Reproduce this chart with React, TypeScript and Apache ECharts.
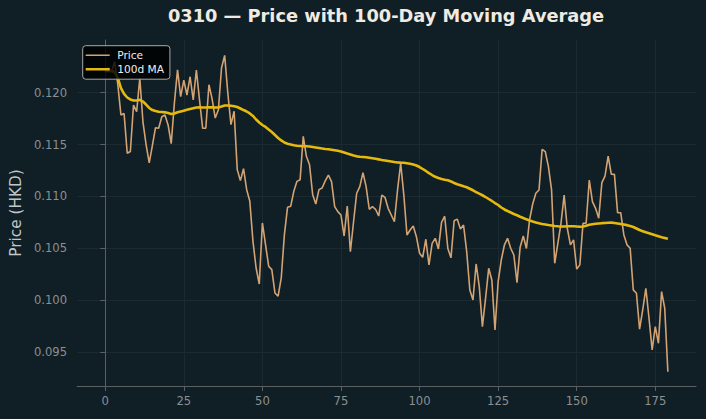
import React, { useEffect, useRef } from 'react';
import * as echarts from 'echarts';

// Daily closing price of 0310 (HKD), one value per trading day
const PRICE = [
  0.1220, 0.1224, 0.1220, 0.1230, 0.1208, 0.11785, 0.1180, 0.11417, 0.11433, 0.11881,
  0.11817, 0.1214, 0.1172, 0.1150, 0.11324, 0.1149, 0.11663, 0.11657, 0.11769, 0.11785,
  0.1169, 0.1151, 0.1190, 0.1222, 0.11962, 0.12122, 0.11978, 0.12154, 0.1193, 0.12218,
  0.1193, 0.11657, 0.11657, 0.12077, 0.1194, 0.11756, 0.11836, 0.12238, 0.1236, 0.11997,
  0.11692, 0.11821, 0.11259, 0.11153, 0.11268, 0.11066, 0.10954, 0.10568, 0.10311, 0.10157,
  0.10745, 0.10536, 0.10328, 0.10295, 0.1007, 0.10039, 0.10215, 0.10632, 0.10896, 0.10905,
  0.1105, 0.11146, 0.11162, 0.1158, 0.11387, 0.11306, 0.11017, 0.10928, 0.11066, 0.11082,
  0.1115, 0.11207, 0.11143, 0.10902, 0.10854, 0.10822, 0.10619, 0.10908, 0.10468, 0.10757,
  0.11031, 0.11095, 0.1123, 0.11095, 0.10877, 0.10902, 0.10877, 0.10812, 0.11014, 0.10992,
  0.10886, 0.10822, 0.10757, 0.11063, 0.1132, 0.11014, 0.10629, 0.10677, 0.10716, 0.10613,
  0.10453, 0.10414, 0.10588, 0.1034, 0.10549, 0.10597, 0.10495, 0.1075, 0.1081, 0.10499,
  0.10409, 0.10766, 0.10782, 0.10686, 0.10725, 0.10468, 0.10099, 0.10003, 0.1035, 0.10131,
  0.09746, 0.10019, 0.10308, 0.10196, 0.09714, 0.10179, 0.10388, 0.10533, 0.10597, 0.10501,
  0.10436, 0.1017, 0.10511, 0.1062, 0.10499, 0.10774, 0.10928, 0.11031, 0.11063, 0.11455,
  0.11432, 0.11288, 0.11063, 0.10356, 0.10549, 0.10742, 0.11014, 0.10694, 0.10534, 0.10582,
  0.103, 0.10341, 0.10742, 0.10742, 0.11159, 0.1095, 0.10886, 0.1079, 0.11133, 0.11197,
  0.1139, 0.11216, 0.11213, 0.10844, 0.10844, 0.1063, 0.10534, 0.10502, 0.101, 0.10068,
  0.09722, 0.09907, 0.10116, 0.09827, 0.09522, 0.09746, 0.09586, 0.10083, 0.09923, 0.09312,
];

// 100-day moving average of the close
const MA_100 = [
  0.12209, 0.12209, 0.12209, 0.12199, 0.12142, 0.12045, 0.11988, 0.11954, 0.11935, 0.11925,
  0.11925, 0.11932, 0.11915, 0.11886, 0.11853, 0.11833, 0.11824, 0.11817, 0.11814, 0.11811,
  0.11804, 0.11795, 0.118, 0.11811, 0.11819, 0.11827, 0.11835, 0.11843, 0.1185, 0.11857,
  0.11859, 0.11857, 0.11857, 0.11859, 0.11859, 0.11857, 0.11857, 0.11867, 0.11877, 0.11877,
  0.11875, 0.1187, 0.11862, 0.11848, 0.11833, 0.11819, 0.118, 0.11776, 0.11742, 0.11713,
  0.11689, 0.1167, 0.11645, 0.11621, 0.11593, 0.11564, 0.1154, 0.1152, 0.11509, 0.11501,
  0.11494, 0.11489, 0.11487, 0.11484, 0.11484, 0.11482, 0.11477, 0.11472, 0.11467, 0.11462,
  0.11458, 0.11455, 0.11451, 0.11446, 0.1144, 0.11434, 0.11424, 0.11414, 0.11405, 0.11395,
  0.11387, 0.11383, 0.11381, 0.11378, 0.11373, 0.11368, 0.11363, 0.11358, 0.11352, 0.11347,
  0.11342, 0.11337, 0.11332, 0.11328, 0.11326, 0.11325, 0.1132, 0.11315, 0.11308, 0.11299,
  0.11284, 0.11265, 0.11246, 0.11226, 0.11207, 0.1119, 0.11178, 0.11169, 0.11162, 0.11156,
  0.11145, 0.1113, 0.11118, 0.11108, 0.11098, 0.11089, 0.11075, 0.1106, 0.11043, 0.11027,
  0.11012, 0.10995, 0.10976, 0.10957, 0.10937, 0.10918, 0.10894, 0.10875, 0.1086, 0.10846,
  0.10831, 0.10819, 0.10805, 0.10793, 0.1078, 0.10769, 0.10759, 0.1075, 0.10742, 0.10735,
  0.1073, 0.10725, 0.10721, 0.10716, 0.10713, 0.10711, 0.10711, 0.10713, 0.10714, 0.10713,
  0.10711, 0.10709, 0.10711, 0.10719, 0.10727, 0.10733, 0.10737, 0.1074, 0.10743, 0.10745,
  0.10747, 0.10748, 0.10745, 0.1074, 0.10735, 0.1073, 0.10724, 0.10716, 0.10706, 0.10692,
  0.10677, 0.10666, 0.10655, 0.10646, 0.10636, 0.10626, 0.10617, 0.10608, 0.106, 0.10592,
];

const X_TICKS = [0, 25, 50, 75, 100, 125, 150, 175];
const Y_TICKS = [0.095, 0.1, 0.105, 0.11, 0.115, 0.12];

const FONT = "'DejaVu Sans', sans-serif";
const BG = '#101f25';
const SPINE = '#5a5f61';
const GRID = '#1b2a31';
const TICK_TEXT = '#8c9092';
const PRICE_COLOR = '#d4a373';
const MA_COLOR = '#e6b90f';

// Plain line-segment legend keys; the corner specks pin the path's box to 24x10
// so each key keeps its own stroke thickness.
const lineKey = (half: number) =>
  `path://M0,${5 - half}H24V${5 + half}H0Z M0,0H0.01V0.01H0Z M23.99,9.99H24V10H23.99Z`;

export default function App() {
  const ref = useRef<HTMLDivElement>(null);

  useEffect(() => {
    const chart = echarts.init(ref.current!, null, { renderer: 'svg' });
    const days = PRICE.map((_, i) => i);

    chart.setOption({
      animation: false,
      backgroundColor: BG,
      title: {
        text: '0310 \u2014 Price with 100-Day Moving Average',
        left: 386,
        top: 6,
        padding: 0,
        textAlign: 'center',
        textStyle: { color: '#efebe2', fontSize: 17.8, fontWeight: 'bold', fontFamily: FONT },
      },
      legend: {
        orient: 'vertical',
        left: 82.7,
        top: 45.7,
        padding: [4, 6, 4.5, 3],
        itemWidth: 24,
        itemHeight: 10,
        itemGap: 3,
        backgroundColor: 'rgba(0,0,0,0.82)',
        borderColor: '#a8a8a8',
        borderWidth: 1,
        borderRadius: 3,
        textStyle: { color: '#eeeeee', fontSize: 10.6, fontFamily: FONT, padding: [0, 0, 0, 2.5] },
        data: [
          { name: 'Price', icon: lineKey(0.8), itemStyle: { color: PRICE_COLOR } },
          { name: '100d MA', icon: lineKey(1.3), itemStyle: { color: MA_COLOR } },
        ],
      },
      grid: { left: 76, right: 10, top: 40, bottom: 33, containLabel: false },
      xAxis: {
        type: 'value',
        min: -8.95,
        max: 187.95,
        axisLine: { show: true, lineStyle: { color: SPINE, width: 1 } },
        axisTick: { show: true, length: 5, lineStyle: { color: SPINE }, customValues: X_TICKS },
        axisLabel: {
          customValues: X_TICKS,
          color: TICK_TEXT,
          fontSize: 11.6,
          fontFamily: FONT,
          margin: 9,
        },
        splitLine: { show: true, lineStyle: { color: GRID, width: 1 } },
      },
      yAxis: {
        type: 'value',
        min: 0.09174,
        max: 0.12508,
        name: 'Price (HKD)',
        nameLocation: 'middle',
        nameRotate: 90,
        nameGap: 52,
        nameTextStyle: { color: '#c3c6c7', fontSize: 15.3, fontFamily: FONT },
        axisLine: { show: true, lineStyle: { color: SPINE, width: 1 } },
        axisTick: { show: true, length: 5, lineStyle: { color: SPINE }, customValues: Y_TICKS },
        axisLabel: {
          customValues: Y_TICKS,
          color: TICK_TEXT,
          fontSize: 11.6,
          fontFamily: FONT,
          margin: 10,
          formatter: (v: number) => v.toFixed(3),
        },
        splitLine: { show: true, lineStyle: { color: GRID, width: 1 } },
      },
      series: [
        {
          name: 'Price',
          type: 'line',
          data: days.map((d) => [d, PRICE[d]]),
          symbol: 'none',
          lineStyle: { color: PRICE_COLOR, width: 1.6 },
          itemStyle: { color: PRICE_COLOR },
          z: 2,
        },
        {
          name: '100d MA',
          type: 'line',
          data: days.map((d) => [d, MA_100[d]]),
          symbol: 'none',
          lineStyle: { color: MA_COLOR, width: 2.6 },
          itemStyle: { color: MA_COLOR },
          z: 3,
        },
      ],
    });

    return () => chart.dispose();
  }, []);

  return (
    <div
      ref={ref}
      style={{ position: 'fixed', left: 0, top: 0, width: 706, height: 419 }}
    />
  );
}
